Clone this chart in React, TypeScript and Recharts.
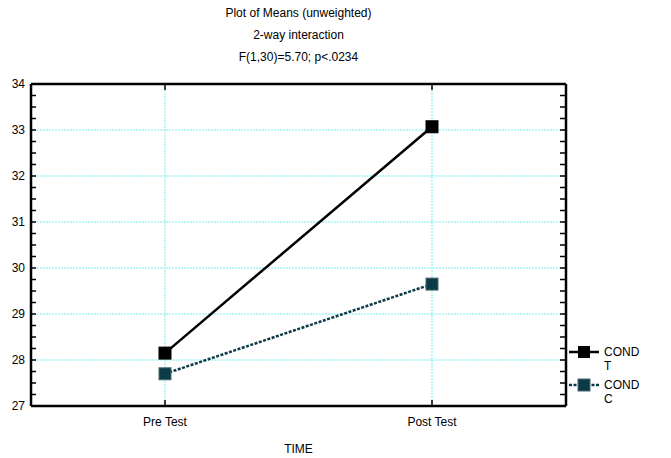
import { LineChart, Line, XAxis, YAxis, CartesianGrid, Legend, ReferenceLine } from 'recharts'

const times = ['Pre Test', 'Post Test']
const condT = [28.15, 33.07]
const condC = [27.7, 29.65]
const majorTicks = [27, 28, 29, 30, 31, 32, 33, 34]
const minorTicks = [
  27, 27.25, 27.5, 27.75, 28, 28.25, 28.5, 28.75, 29, 29.25, 29.5, 29.75,
  30, 30.25, 30.5, 30.75, 31, 31.25, 31.5, 31.75, 32, 32.25, 32.5, 32.75,
  33, 33.25, 33.5, 33.75, 34,
]
const titleLines = ['Plot of Means (unweighted)', '2-way interaction', 'F(1,30)=5.70; p<.0234']

const data = times.map((t, i) => ({ time: t, T: condT[i], C: condC[i] }))

const FONT = '"Liberation Sans", Arial, sans-serif'
const PLOT_L = 31
const PLOT_R = 566
const PLOT_T = 84
const PLOT_B = 406
const T_COLOR = '#000000'
const C_COLOR = '#0c3b47'
const GRID = '#a8f4f4'

// left axis tick: mirror the inward mark on the right edge, label whole numbers
const YLabel = (props: any) => {
  const { y, payload } = props
  return (
    <g>
      <rect x={PLOT_R - 6} y={y - 0.75} width={6} height={1.5} fill="#000" />
      {Number.isInteger(payload.value) && (
        <text x={25} y={y} dy={4} textAnchor="end" fontSize={12} fontFamily={FONT} fill="#000">
          {payload.value}
        </text>
      )}
    </g>
  )
}

const XLabel = (props: any) => {
  const { x, payload } = props
  return (
    <g>
      <rect x={x - 0.75} y={PLOT_B - 6} width={1.5} height={6} fill="#000" />
      <rect x={x - 0.75} y={PLOT_T} width={1.5} height={6} fill="#000" />
      <text x={x} y={426} textAnchor="middle" fontSize={12} fontFamily={FONT} fill="#000">
        {payload.value}
      </text>
    </g>
  )
}

const square = (fill: string, stroke: string) => (p: any) => (
  <rect key={p.index} x={p.cx - 6} y={p.cy - 6} width={12} height={12} fill={fill} stroke={stroke} strokeWidth={1} />
)

const LegendBox = () => (
  <svg width={100} height={70} style={{ display: 'block' }}>
    <line x1={1} x2={31} y1={9} y2={9} stroke={T_COLOR} strokeWidth={2.5} />
    <rect x={10} y={3} width={12} height={12} fill={T_COLOR} />
    <text x={36} y={13} fontSize={12} fontFamily={FONT}>COND</text>
    <text x={36} y={27} fontSize={12} fontFamily={FONT}>T</text>
    <line x1={1} x2={31} y1={42} y2={42} stroke={C_COLOR} strokeWidth={2.5} strokeDasharray="3 1.5" />
    <rect x={10} y={36} width={12} height={12} fill={C_COLOR} stroke="#4a6a72" />
    <text x={36} y={46} fontSize={12} fontFamily={FONT}>COND</text>
    <text x={36} y={60} fontSize={12} fontFamily={FONT}>C</text>
  </svg>
)

const frame = { stroke: '#000', strokeWidth: 2.5 }
const inwardTick = { stroke: '#000', strokeWidth: 1.5 }

export default function App() {
  return (
    <div style={{ position: 'absolute', left: 0, top: 0, width: 671, height: 458, background: '#fff', fontFamily: FONT }}>
      <div style={{ position: 'absolute', left: PLOT_L, width: PLOT_R - PLOT_L, top: 2, textAlign: 'center', fontSize: 12, lineHeight: '22px' }}>
        {titleLines.map((t) => (
          <div key={t}>{t}</div>
        ))}
      </div>
      <LineChart width={671} height={458} data={data} margin={{ top: 83, right: 104, bottom: 0, left: 0 }}>
        <CartesianGrid stroke={GRID} strokeDasharray="2 1" strokeWidth={1.5} horizontal={false} />
        {majorTicks.slice(1, -1).map((v) => (
          <ReferenceLine key={v} y={v} stroke={GRID} strokeDasharray="2 1" strokeWidth={1.5} />
        ))}
        <XAxis
          dataKey="time"
          height={52}
          padding={{ left: 134, right: 134 }}
          axisLine={frame}
          tickLine={false}
          tick={<XLabel />}
          label={{ value: 'TIME', position: 'insideBottom', offset: 5, fill: '#000', fontSize: 12, fontFamily: FONT }}
        />
        <XAxis
          xAxisId="top"
          orientation="top"
          dataKey="time"
          height={1}
          padding={{ left: 134, right: 134 }}
          tick={false}
          tickLine={false}
          axisLine={frame}
        />
        <YAxis
          width={31}
          domain={[27, 34]}
          ticks={minorTicks}
          interval={0}
          tickLine={inwardTick}
          tickSize={-5}
          tick={<YLabel />}
          axisLine={frame}
        />
        <YAxis
          yAxisId="r"
          orientation="right"
          width={1}
          domain={[27, 34]}
          tick={false}
          tickLine={false}
          axisLine={frame}
        />
        <Line
          dataKey="T"
          stroke={T_COLOR}
          strokeWidth={2.5}
          dot={square(T_COLOR, T_COLOR)}
          isAnimationActive={false}
        />
        <Line
          yAxisId="r"
          dataKey="C"
          stroke={C_COLOR}
          strokeWidth={2.5}
          strokeDasharray="3 1.5"
          dot={square(C_COLOR, '#4a6a72')}
          isAnimationActive={false}
        />
        <Legend
          layout="horizontal"
          verticalAlign="middle"
          content={() => <LegendBox />}
          wrapperStyle={{ left: 568, top: 343, width: 100, height: 70 }}
        />
      </LineChart>
    </div>
  )
}
